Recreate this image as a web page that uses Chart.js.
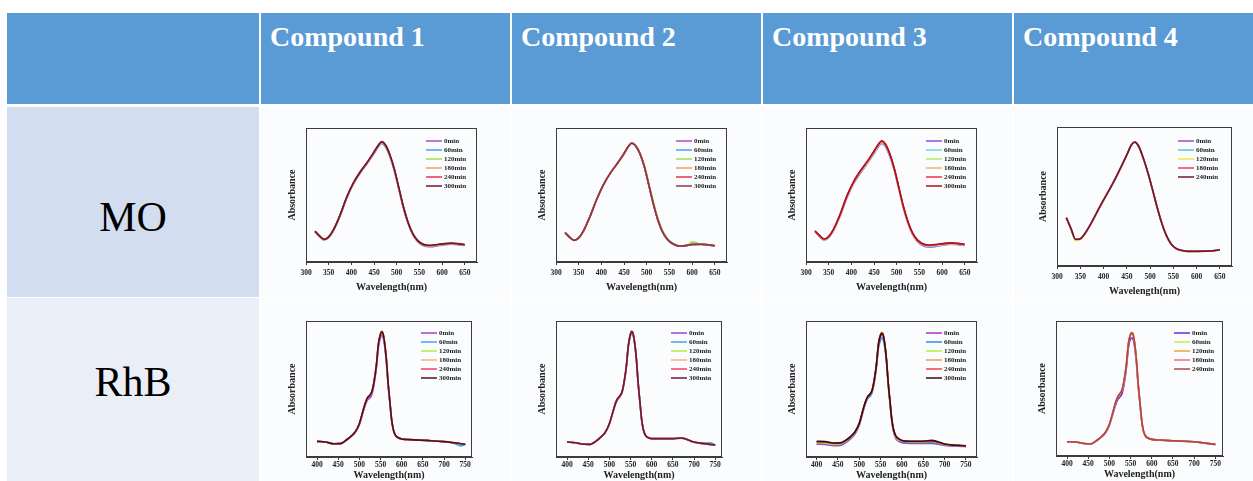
<!DOCTYPE html>
<html>
<head>
<meta charset="utf-8">
<script src="https://cdn.jsdelivr.net/npm/chart.js@4.4.1/dist/chart.umd.min.js"></script>
<style>
  html, body { margin: 0; padding: 0; background: #fff; }
  body { width: 1253px; height: 481px; position: relative; overflow: hidden; font-family: "Liberation Serif", serif; }
  .cell { position: absolute; box-sizing: border-box; }
  .head { background: #5b9bd5; color: #fff; font-weight: bold; font-size: 28px; line-height: 32px; padding: 8px 0 0 9px; }
  .dye { display: flex; align-items: center; justify-content: center; color: #000; font-size: 42px; }
  .plot { background: #fbfcfe; }
  .box { position: absolute; }
</style>
</head>
<body>
<script>
// ---- data ----
const compounds = ['Compound 1', 'Compound 2', 'Compound 3', 'Compound 4'];
const dyes = ['MO', 'RhB'];
const times6 = ['0min', '60min', '120min', '180min', '240min', '300min'];
const times5 = ['0min', '60min', '120min', '180min', '240min'];
const moTicks = [300, 350, 400, 450, 500, 550, 600, 650];
const rhbTicks = [400, 450, 500, 550, 600, 650, 700, 750];

const moWavelength = [320,330,340,350,360,375,390,405,420,435,450,460,467,475,485,495,505,515,525,535,545,555,565,575,590,600,620,635,650];
const rhbWavelength = [400,420,440,455,470,480,490,500,510,515,520,525,530,535,540,545,550,553,556,560,564,568,572,576,580,585,590,600,620,650,670,700,720,740,750];

// Compound 1 - MO
const m1_0   = [.226,.190,.165,.183,.231,.343,.478,.586,.666,.736,.810,.862,.884,.862,.788,.679,.540,.401,.289,.207,.157,.128,.116,.114,.121,.126,.133,.130,.124];
const m1_60  = [.227,.191,.166,.184,.232,.345,.480,.588,.668,.738,.813,.866,.888,.866,.791,.682,.543,.403,.291,.209,.159,.131,.119,.117,.124,.129,.135,.132,.126];
const m1_120 = [.228,.192,.167,.185,.234,.346,.482,.590,.670,.740,.816,.869,.891,.869,.794,.684,.545,.405,.293,.211,.161,.133,.121,.119,.126,.131,.137,.134,.127];
const m1_180 = [.228,.193,.168,.186,.235,.347,.483,.591,.671,.741,.818,.871,.893,.871,.796,.686,.546,.406,.294,.212,.162,.134,.123,.121,.128,.132,.138,.135,.128];
const m1_240 = [.229,.194,.169,.187,.236,.349,.485,.593,.673,.743,.820,.873,.896,.873,.798,.688,.548,.408,.295,.213,.163,.136,.125,.123,.130,.134,.140,.136,.129];
const m1_300 = [.230,.195,.170,.188,.237,.350,.487,.595,.675,.745,.822,.875,.898,.875,.800,.690,.550,.410,.297,.215,.165,.138,.127,.125,.131,.135,.141,.137,.130];

// Compound 2 - MO
const m2_0   = [.219,.184,.161,.179,.227,.339,.469,.578,.663,.733,.808,.863,.886,.868,.808,.708,.568,.428,.308,.223,.170,.140,.123,.117,.123,.130,.131,.127,.120];
const m2_60  = [.219,.184,.161,.179,.227,.339,.469,.579,.664,.734,.809,.864,.886,.868,.808,.708,.568,.428,.308,.223,.170,.140,.123,.117,.123,.130,.131,.127,.120];
const m2_120 = [.220,.185,.162,.180,.228,.340,.470,.580,.665,.735,.810,.865,.888,.872,.815,.720,.585,.445,.322,.234,.178,.146,.127,.120,.127,.150,.134,.130,.123];
const m2_180 = [.219,.184,.161,.179,.227,.339,.469,.579,.664,.734,.809,.864,.887,.870,.811,.712,.573,.433,.313,.227,.173,.143,.125,.119,.125,.132,.133,.129,.122];
const m2_240 = [.220,.185,.162,.180,.228,.340,.470,.580,.665,.735,.810,.865,.887,.869,.809,.709,.569,.429,.309,.224,.171,.141,.124,.118,.124,.131,.132,.128,.121];
const m2_300 = [.220,.185,.162,.180,.228,.340,.470,.580,.665,.735,.810,.865,.888,.870,.810,.710,.570,.430,.310,.225,.172,.142,.125,.119,.125,.132,.133,.129,.122];

// Compound 3 - MO
const m3_0   = [.226,.189,.164,.182,.230,.341,.476,.584,.664,.734,.809,.862,.885,.862,.787,.678,.538,.399,.287,.205,.155,.127,.114,.112,.119,.125,.132,.129,.123];
const m3_60  = [.228,.192,.167,.185,.233,.345,.481,.589,.669,.739,.815,.868,.891,.868,.793,.683,.543,.403,.291,.209,.159,.131,.119,.117,.124,.129,.135,.132,.126];
const m3_120 = [.229,.194,.169,.187,.236,.348,.485,.593,.673,.743,.820,.873,.896,.873,.798,.688,.547,.406,.294,.212,.162,.134,.123,.121,.127,.131,.137,.134,.128];
const m3_180 = [.230,.195,.170,.188,.237,.350,.487,.595,.676,.746,.823,.876,.899,.876,.800,.690,.549,.408,.295,.213,.163,.136,.125,.123,.129,.133,.139,.136,.129];
const m3_240 = [.231,.197,.171,.189,.239,.352,.490,.598,.679,.749,.826,.879,.902,.879,.803,.692,.551,.410,.297,.215,.165,.138,.127,.125,.131,.135,.141,.137,.130];
const m3_300 = [.232,.198,.172,.190,.240,.354,.492,.600,.681,.751,.828,.881,.905,.881,.805,.694,.553,.412,.299,.217,.167,.140,.129,.127,.133,.137,.143,.139,.132];

// Compound 4 - MO
const m4_0   = [.347,.269,.191,.195,.233,.317,.413,.504,.594,.694,.799,.870,.890,.863,.779,.674,.552,.424,.309,.219,.159,.127,.114,.107,.105,.105,.106,.109,.115];
const m4_60  = [.347,.269,.191,.195,.233,.317,.413,.504,.594,.694,.798,.869,.888,.862,.778,.673,.551,.423,.308,.218,.158,.127,.114,.107,.105,.105,.106,.109,.115];
const m4_120 = [.345,.264,.183,.188,.228,.314,.411,.503,.594,.694,.799,.870,.890,.863,.779,.674,.552,.424,.309,.219,.159,.127,.114,.107,.105,.105,.106,.109,.115];
const m4_180 = [.347,.269,.191,.195,.233,.317,.413,.504,.594,.694,.799,.871,.891,.864,.779,.674,.552,.424,.309,.219,.159,.127,.114,.107,.105,.105,.106,.109,.115];
const m4_240 = [.347,.270,.192,.196,.234,.318,.414,.505,.595,.695,.800,.872,.892,.865,.780,.675,.553,.425,.310,.220,.160,.128,.115,.108,.106,.106,.107,.110,.116];

// Compound 1 - RhB
const r1_0   = [.115,.110,.097,.098,.126,.150,.180,.238,.342,.390,.422,.435,.465,.540,.650,.805,.878,.893,.880,.808,.690,.525,.398,.272,.200,.157,.143,.132,.127,.122,.119,.112,.105,.097,.093];
const r1_60  = [.115,.110,.097,.098,.127,.151,.183,.244,.352,.402,.436,.451,.481,.556,.666,.826,.900,.915,.900,.826,.707,.538,.408,.279,.204,.159,.144,.132,.127,.122,.119,.112,.105,.082,.092];
const r1_120 = [.115,.110,.097,.098,.127,.152,.184,.246,.356,.407,.442,.457,.487,.562,.674,.836,.912,.928,.911,.834,.712,.542,.411,.281,.205,.160,.145,.133,.128,.123,.120,.113,.106,.098,.094];
const r1_180 = [.115,.110,.097,.098,.127,.152,.184,.245,.355,.406,.441,.456,.486,.561,.672,.833,.908,.924,.908,.832,.711,.541,.410,.280,.205,.160,.145,.133,.128,.123,.120,.113,.106,.098,.094];
const r1_240 = [.115,.110,.097,.098,.127,.152,.184,.245,.354,.404,.439,.454,.484,.559,.669,.829,.905,.921,.906,.830,.710,.540,.410,.280,.205,.160,.145,.133,.128,.123,.120,.113,.106,.098,.094];
const r1_300 = [.115,.110,.097,.098,.127,.152,.184,.245,.355,.405,.440,.455,.485,.560,.670,.830,.905,.920,.905,.830,.710,.540,.410,.280,.205,.160,.145,.133,.128,.123,.120,.113,.106,.098,.094];

// Compound 2 - RhB
const r2_0   = [.110,.105,.094,.093,.120,.147,.179,.243,.345,.394,.425,.442,.472,.547,.656,.814,.893,.912,.898,.826,.708,.540,.408,.280,.204,.159,.144,.134,.134,.134,.139,.109,.099,.091,.087];
const r2_60  = [.110,.105,.094,.093,.120,.148,.180,.245,.349,.399,.431,.449,.479,.554,.664,.823,.902,.920,.905,.832,.713,.543,.410,.281,.204,.159,.144,.134,.134,.134,.139,.109,.100,.105,.087];
const r2_120 = [.110,.105,.094,.093,.120,.148,.180,.245,.351,.401,.433,.451,.481,.556,.667,.827,.907,.926,.910,.836,.716,.546,.412,.282,.205,.160,.145,.135,.135,.135,.140,.110,.100,.092,.088];
const r2_180 = [.110,.105,.094,.093,.120,.148,.180,.245,.350,.400,.432,.450,.480,.555,.666,.826,.906,.925,.909,.835,.715,.545,.412,.282,.205,.160,.145,.135,.135,.135,.140,.110,.100,.092,.088];
const r2_240 = [.110,.105,.094,.093,.120,.148,.180,.245,.350,.400,.432,.450,.480,.555,.665,.825,.904,.923,.907,.834,.714,.544,.411,.281,.205,.160,.145,.135,.135,.135,.140,.110,.100,.092,.088];
const r2_300 = [.110,.105,.094,.093,.120,.148,.180,.245,.350,.400,.432,.450,.480,.555,.665,.825,.905,.924,.908,.835,.715,.545,.412,.282,.205,.160,.145,.135,.135,.135,.140,.110,.100,.092,.088];

// Compound 3 - RhB
const r3_0   = [.095,.093,.083,.085,.110,.135,.170,.235,.350,.400,.435,.450,.480,.555,.665,.820,.890,.905,.890,.820,.700,.530,.400,.270,.190,.140,.120,.105,.100,.100,.100,.085,.080,.078,.076];
const r3_60  = [.100,.098,.088,.090,.115,.140,.174,.238,.350,.399,.432,.446,.475,.548,.655,.800,.862,.875,.862,.800,.688,.524,.398,.272,.194,.145,.125,.110,.105,.105,.105,.089,.083,.080,.078];
const r3_120 = [.105,.103,.093,.095,.120,.145,.180,.245,.360,.410,.445,.460,.490,.566,.678,.838,.905,.918,.903,.832,.710,.540,.410,.280,.200,.150,.130,.118,.113,.113,.116,.093,.086,.083,.081];
const r3_180 = [.110,.108,.098,.099,.124,.149,.183,.247,.361,.411,.446,.461,.491,.567,.678,.835,.902,.913,.899,.828,.707,.538,.409,.280,.202,.154,.134,.122,.117,.117,.120,.095,.088,.084,.082];
const r3_240 = [.112,.110,.100,.101,.125,.150,.184,.248,.361,.411,.446,.461,.491,.566,.676,.832,.898,.910,.896,.825,.705,.537,.408,.280,.203,.156,.136,.120,.114,.114,.117,.094,.087,.083,.081];
const r3_300 = [.115,.113,.103,.104,.127,.152,.186,.249,.362,.411,.446,.461,.491,.566,.676,.832,.898,.910,.896,.826,.706,.538,.410,.282,.206,.160,.140,.122,.116,.116,.122,.096,.088,.084,.082];

// Compound 4 - RhB
const r4_0   = [.106,.104,.092,.089,.114,.138,.168,.228,.332,.383,.420,.438,.465,.540,.648,.805,.868,.874,.864,.796,.678,.516,.391,.265,.187,.148,.133,.122,.117,.112,.109,.105,.097,.089,.085];
const r4_60  = [.106,.104,.092,.089,.115,.140,.172,.235,.345,.400,.440,.462,.489,.564,.674,.834,.900,.908,.896,.824,.699,.530,.400,.270,.190,.150,.135,.123,.118,.113,.110,.106,.098,.090,.086];
const r4_120 = [.106,.104,.092,.089,.115,.140,.172,.236,.346,.401,.441,.464,.492,.568,.680,.842,.908,.916,.903,.829,.703,.532,.401,.271,.191,.150,.135,.123,.118,.113,.110,.106,.098,.090,.086];
const r4_180 = [.106,.104,.092,.089,.115,.140,.172,.235,.345,.400,.440,.463,.490,.566,.676,.836,.903,.911,.899,.826,.701,.531,.400,.270,.190,.150,.135,.123,.118,.113,.110,.106,.098,.090,.086];
const r4_240 = [.106,.104,.092,.089,.115,.140,.172,.235,.345,.400,.440,.463,.490,.565,.675,.835,.902,.910,.898,.825,.700,.530,.400,.270,.190,.150,.135,.123,.118,.113,.110,.106,.098,.090,.086];

// ---- styles / layout ----
const colors6a = ['#a64fc0', '#4aa3e0', '#a3e04a', '#f0a060', '#e8334a', '#6b1a2e'];
const colors6b = ['#9b4ae0', '#6fd6e8', '#b8e86a', '#f0b070', '#f03040', '#b01020'];
const colors5mo = ['#9a50c0', '#50c8d8', '#ffe040', '#f04050', '#701830'];
const colors6r = ['#b030c0', '#3090e0', '#b0f040', '#f0a050', '#f04040', '#400810'];
const colors5r = ['#6a2ad8', '#b8f060', '#f0a040', '#f07070', '#b04848'];

const colX = [261, 512, 763, 1014];
const colW = [249, 249, 249, 239];

const plots = [
  { x: moWavelength, ticks: moTicks, min: 300, max: 677, series: [m1_0, m1_60, m1_120, m1_180, m1_240, m1_300], labels: times6, colors: colors6a, frame: [306, 128, 477, 262], row: 0, legendTop: 13, legendDx: 0 },
  { x: moWavelength, ticks: moTicks, min: 300, max: 677, series: [m2_0, m2_60, m2_120, m2_180, m2_240, m2_300], labels: times6, colors: ['#a64fc0', '#4aa3e0', '#a3e04a', '#f0a060', '#e8334a', '#8b3a4a'], frame: [556, 128, 727, 262], row: 0, legendTop: 13, legendDx: 0 },
  { x: moWavelength, ticks: moTicks, min: 300, max: 677, series: [m3_0, m3_60, m3_120, m3_180, m3_240, m3_300], labels: times6, colors: colors6b, frame: [806, 128, 977, 262], row: 0, legendTop: 13, legendDx: 0 },
  { x: moWavelength, ticks: moTicks, min: 300, max: 676, series: [m4_0, m4_60, m4_120, m4_180, m4_240], labels: times5, colors: colors5mo, frame: [1057, 127, 1232, 266], row: 0, legendTop: 14, legendDx: -3 },
  { x: rhbWavelength, ticks: rhbTicks, min: 374, max: 766, series: [r1_0, r1_60, r1_120, r1_180, r1_240, r1_300], labels: times6, colors: ['#a040d0', '#40a8e8', '#b0f040', '#f8b080', '#f04060', '#501020'], frame: [306, 321, 472, 457], row: 1, legendTop: 12, legendDx: 0 },
  { x: rhbWavelength, ticks: rhbTicks, min: 374, max: 766, series: [r2_0, r2_60, r2_120, r2_180, r2_240, r2_300], labels: times6, colors: ['#a040d0', '#40a8e8', '#b0f040', '#f8b080', '#f04060', '#6a1a3a'], frame: [556, 321, 722, 457], row: 1, legendTop: 12, legendDx: 0 },
  { x: rhbWavelength, ticks: rhbTicks, min: 375, max: 776, series: [r3_0, r3_60, r3_120, r3_180, r3_240, r3_300], labels: times6, colors: colors6r, frame: [806, 321, 977, 457], row: 1, legendTop: 12, legendDx: 0 },
  { x: rhbWavelength, ticks: rhbTicks, min: 374, max: 768, series: [r4_0, r4_60, r4_120, r4_180, r4_240], labels: times5, colors: colors5r, frame: [1056, 321, 1223, 456], row: 1, legendTop: 12, legendDx: 2 }
];

// row specific axis spacing
const rowAxis = [
  { axisH: 33, tickPad: 4, titlePad: 2 },
  { axisH: 24, tickPad: 1, titlePad: 0 }
];

function addCell(cls, x, y, w, h, text) {
  const d = document.createElement('div');
  d.className = 'cell ' + cls;
  d.style.left = x + 'px'; d.style.top = y + 'px';
  d.style.width = w + 'px'; d.style.height = h + 'px';
  if (text) d.textContent = text;
  document.body.appendChild(d);
  return d;
}

// table background
addCell('head', 7, 13, 252, 91, '');
compounds.forEach((c, i) => addCell('head', colX[i], 13, colW[i], 91, c));
const moCell = addCell('dye', 7, 107, 252, 190, dyes[0]);
moCell.style.background = '#d2deef';
moCell.style.paddingTop = '30px';
const rhbCell = addCell('dye', 7, 298, 252, 190, dyes[1]);
rhbCell.style.background = '#e9eef7';
rhbCell.style.paddingBottom = '22px';
for (let i = 0; i < 4; i++) {
  addCell('plot', colX[i], 107, colW[i], 190);
  addCell('plot', colX[i], 298, colW[i], 190);
}

const serif = '"Liberation Serif", "Times New Roman", serif';
Chart.defaults.font.family = serif;

// frame around the plot area
const framePlugin = {
  id: 'frame',
  afterDatasetsDraw(chart) {
    const a = chart.chartArea, ctx = chart.ctx;
    ctx.save();
    ctx.strokeStyle = '#3c3c3c';
    ctx.lineWidth = 1;
    ctx.strokeRect(a.left + 0.5, a.top + 0.5, a.right - a.left - 1, a.bottom - a.top - 1);
    ctx.restore();
  }
};

// legend drawn inside the plot area, top right
const innerLegend = {
  id: 'innerLegend',
  afterDraw(chart, args, opts) {
    const a = chart.chartArea, ctx = chart.ctx;
    ctx.save();
    ctx.font = 'bold 7px ' + serif;
    ctx.textBaseline = 'middle';
    ctx.fillStyle = '#222';
    chart.data.datasets.forEach((ds, i) => {
      const y = a.top + opts.top + i * 9;
      const x0 = a.right - 51 + opts.dx;
      ctx.strokeStyle = ds.borderColor;
      ctx.lineWidth = 1.5;
      ctx.beginPath();
      ctx.moveTo(x0, y);
      ctx.lineTo(x0 + 16, y);
      ctx.stroke();
      ctx.fillText(ds.label, x0 + 18, y + 0.5);
    });
    ctx.restore();
  }
};

plots.forEach((p) => {
  const ax = rowAxis[p.row];
  const [fl, ft, fr, fb] = p.frame;
  const box = document.createElement('div');
  box.className = 'box';
  box.style.left = (fl - 22) + 'px';
  box.style.top = (ft - 1) + 'px';
  box.style.width = (fr - fl + 23) + 'px';
  box.style.height = (fb - ft + 1 + ax.axisH) + 'px';
  const cv = document.createElement('canvas');
  box.appendChild(cv);
  document.body.appendChild(box);

  const n = p.series.length;
  new Chart(cv.getContext('2d'), {
    type: 'line',
    data: {
      datasets: p.series.map((s, i) => ({
        label: p.labels[i],
        data: p.x.map((w, k) => ({ x: w, y: s[k] })),
        borderColor: p.colors[i],
        borderWidth: 1.6,
        pointRadius: 0,
        cubicInterpolationMode: 'monotone',
        order: n - i
      }))
    },
    options: {
      responsive: true,
      maintainAspectRatio: false,
      animation: false,
      layout: { padding: { top: 1, right: 1, left: 0, bottom: 0 } },
      plugins: {
        legend: { display: false },
        tooltip: { enabled: false },
        innerLegend: { top: p.legendTop, dx: p.legendDx }
      },
      scales: {
        x: {
          type: 'linear',
          min: p.min,
          max: p.max,
          afterBuildTicks: (s) => { s.ticks = p.ticks.map(v => ({ value: v })); },
          afterFit: (s) => { s.height = ax.axisH; },
          ticks: {
            color: '#222',
            font: { size: 7.5, weight: 'bold' },
            padding: ax.tickPad,
            maxRotation: 0,
            autoSkip: false,
            callback: (v) => String(v)
          },
          grid: { display: true, drawOnChartArea: false, drawTicks: true, tickLength: 3, color: '#3c3c3c' },
          border: { display: true, color: '#3c3c3c' },
          title: {
            display: true,
            text: 'Wavelength(nm)',
            color: '#222',
            font: { size: 10, weight: 'bold', lineHeight: 1.2 },
            padding: { top: 0, bottom: ax.titlePad }
          }
        },
        y: {
          type: 'linear',
          min: 0,
          max: 1,
          afterFit: (s) => { s.width = 22; },
          ticks: { display: false },
          grid: { display: false },
          border: { display: false },
          title: {
            display: true,
            text: 'Absorbance',
            color: '#222',
            font: { size: 10, weight: 'bold', lineHeight: 1.2 },
            padding: { top: 2, bottom: 0 }
          }
        }
      }
    },
    plugins: [framePlugin, innerLegend]
  });
});
</script>
</body>
</html>
